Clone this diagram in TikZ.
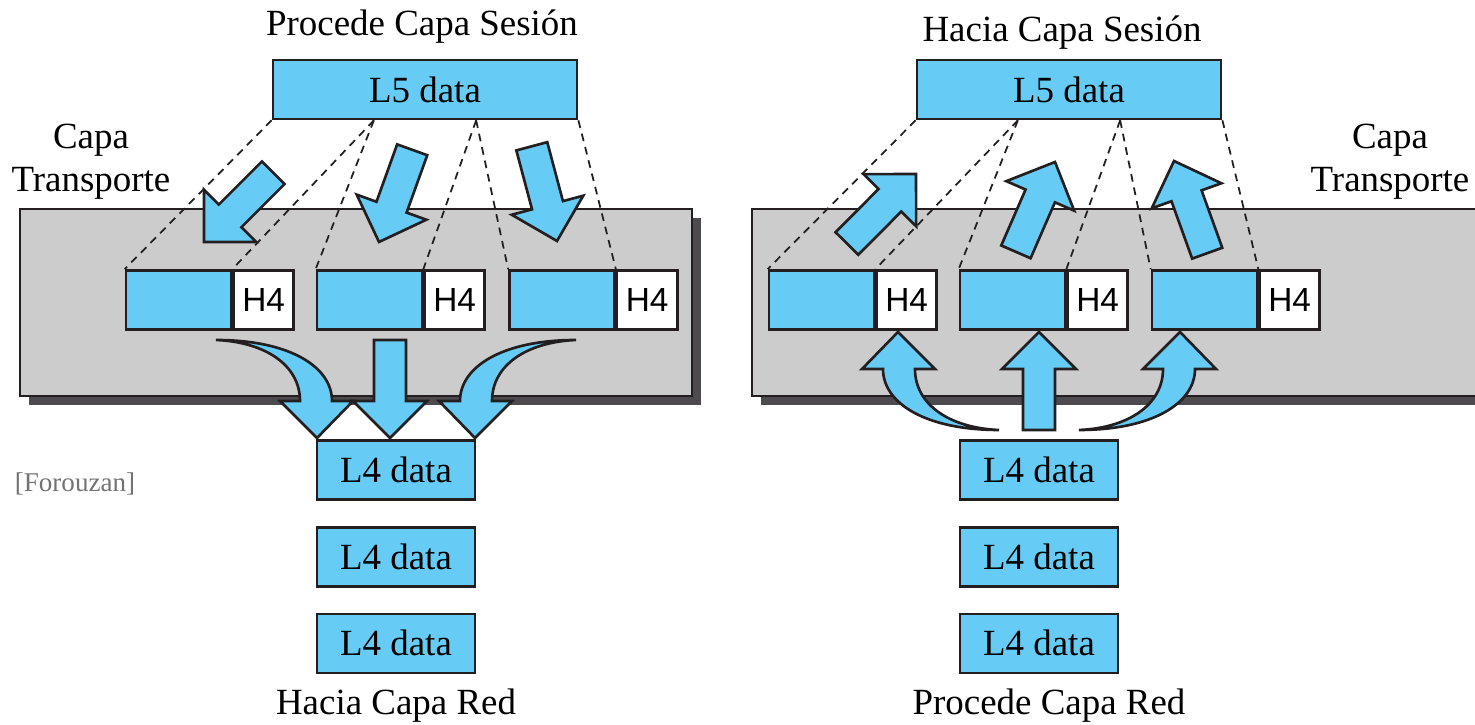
\documentclass[tikz,border=0pt]{standalone}
\usepackage{fontspec}
\setmainfont{Liberation Serif}
\newfontfamily\hfont{Liberation Sans}
\usetikzlibrary{positioning,calc}
\definecolor{pktblue}{HTML}{66CCF5}
\definecolor{layergray}{HTML}{CCCCCC}
\definecolor{shadowgray}{HTML}{4D4B4D}
\definecolor{inkblack}{HTML}{231F20}

\begin{document}
\begin{tikzpicture}[x=0.01cm,y=-0.01cm]
        \tikzset{
            txt/.style={font=\fontsize{10.5}{12.5}\selectfont, inner sep=0pt},
            dbox/.style={draw=inkblack, fill=pktblue, line width=0.75pt, inner sep=0pt, minimum height=0.59cm, font=\fontsize{10.5}{12.5}\selectfont},
            hbox/.style={draw=inkblack, fill=white, line width=0.75pt, inner sep=0pt, minimum width=0.6cm, minimum height=0.59cm, font=\hfont\fontsize{9.5}{11}\selectfont},
            layer/.style={draw=inkblack, fill=layergray, line width=0.75pt},
            dline/.style={inkblack, line width=0.5pt, dash pattern=on 2.2pt off 1.7pt},
            arrowfill/.style={draw=inkblack, fill=pktblue, line width=0.75pt, line join=miter},
            pics/barrow/.style={code={
                \draw[arrowfill] (0,0) -- (-37,-37) -- (-37,-16) -- (-98,-16) -- (-98,16) -- (-37,16) -- (-37,37) -- cycle;
            }},
            pics/carrow/.style={code={
                \draw[arrowfill] (0,0) -- (36,-37) -- (15,-37) .. controls (15,-71) and (-27,-98) .. (-101,-98)
                    .. controls (-52,-96) and (-17,-73) .. (-17,-37) -- (-37,-37) -- cycle;
            }}
        }
        \useasboundingbox (0,0) rectangle (1475,725);
        % transport layer, sender side
        \fill[shadowgray] (29,218) rectangle (701,405);
        \draw[layer] (20,209) rectangle (692,396);
        % transport layer, receiver side
        \fill[shadowgray] (761,218) rectangle (1490,405);
        \draw[layer] (752,209) rectangle (1480,396);

        \node[txt, anchor=base] (srcA) at (422,36) {Procede Capa Sesión};
        \node[dbox, minimum width=3.04cm] (L5a) at (425,89.5) {L5 data};
        \node[txt, anchor=base] (capaA) at (91,149) {Capa};
        \node[txt, anchor=base] (transA) at (91,192) {Transporte};

        \node[dbox, minimum width=1.05cm] (dA1) at (178.5,300) {};
        \node[hbox, right=0pt of dA1] (hA1) {H4};
        \node[dbox, minimum width=1.05cm] (dA2) at (369.5,300) {};
        \node[hbox, right=0pt of dA2] (hA2) {H4};
        \node[dbox, minimum width=1.05cm] (dA3) at (562,300) {};
        \node[hbox, right=0pt of dA3] (hA3) {H4};

        \node[dbox, minimum width=1.58cm] (L4a1) at (396,470) {L4 data};
        \node[dbox, minimum width=1.58cm, below=0.255cm of L4a1] (L4a2) {L4 data};
        \node[dbox, minimum width=1.58cm, below=0.245cm of L4a2] (L4a3) {L4 data};
        \node[txt, anchor=base] (dstA) at (396,715) {Hacia Capa Red};
        \node[txt, anchor=base, text=black!55] (cite) at (75,492) {\fontsize{7.7}{9}\selectfont [Forouzan]};

        \node[txt, anchor=base] (dstB) at (1062,42) {Hacia Capa Sesión};
        \node[dbox, minimum width=3.04cm] (L5b) at (1069,89.5) {L5 data};
        \node[txt, anchor=base] (capaB) at (1390,149) {Capa};
        \node[txt, anchor=base] (transB) at (1390,192) {Transporte};

        \node[dbox, minimum width=1.05cm] (dB1) at (821.5,300) {};
        \node[hbox, right=0pt of dB1] (hB1) {H4};
        \node[dbox, minimum width=1.05cm] (dB2) at (1012.5,300) {};
        \node[hbox, right=0pt of dB2] (hB2) {H4};
        \node[dbox, minimum width=1.05cm] (dB3) at (1204.5,300) {};
        \node[hbox, right=0pt of dB3] (hB3) {H4};

        \node[dbox, minimum width=1.58cm] (L4b1) at (1039,470) {L4 data};
        \node[dbox, minimum width=1.58cm, below=0.255cm of L4b1] (L4b2) {L4 data};
        \node[dbox, minimum width=1.58cm, below=0.245cm of L4b2] (L4b3) {L4 data};
        \node[txt, anchor=base] (srcB) at (1049,715) {Procede Capa Red};

        % split lines
        \draw[dline] (L5a.south west) -- (dA1.north west);
        \draw[dline] ($(L5a.south west)!1/3!(L5a.south east)$) -- (dA1.north east);
        \draw[dline] ($(L5a.south west)!1/3!(L5a.south east)$) -- (dA2.north west);
        \draw[dline] ($(L5a.south west)!2/3!(L5a.south east)$) -- (dA2.north east);
        \draw[dline] ($(L5a.south west)!2/3!(L5a.south east)$) -- (dA3.north west);
        \draw[dline] (L5a.south east) -- (dA3.north east);
        \draw[dline] (L5b.south west) -- (dB1.north west);
        \draw[dline] ($(L5b.south west)!1/3!(L5b.south east)$) -- (dB1.north east);
        \draw[dline] ($(L5b.south west)!1/3!(L5b.south east)$) -- (dB2.north west);
        \draw[dline] ($(L5b.south west)!2/3!(L5b.south east)$) -- (dB2.north east);
        \draw[dline] ($(L5b.south west)!2/3!(L5b.south east)$) -- (dB3.north west);
        \draw[dline] (L5b.south east) -- (dB3.north east);

        % block arrows
        \pic[rotate=225] at (204,242) {barrow};
        \pic[rotate=250.2] at (379,242) {barrow};
        \pic[rotate=284.9] at (557,241) {barrow};
        \pic[rotate=45.2] at (916,174) {barrow};
        \pic[rotate=66.5] at (1055,162) {barrow};
        \pic[rotate=109.8] at (1174,161) {barrow};

        \pic at (317,438) {carrow};
        \pic[rotate=270] at (390,438) {barrow};
        \pic[xscale=-1] at (475,438) {carrow};
        \pic[rotate=180] at (898,332) {carrow};
        \pic[rotate=90] at (1039,332) {barrow};
        \pic[yscale=-1] at (1180,332) {carrow};
    \end{tikzpicture}
\end{document}
